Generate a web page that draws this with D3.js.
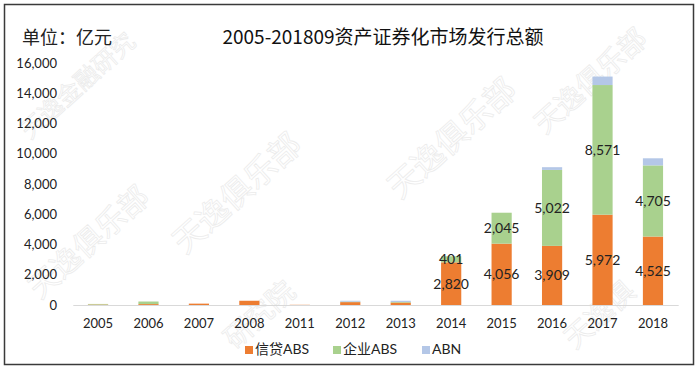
<!DOCTYPE html>
<html>
<head>
<meta charset="utf-8">
<script src="https://cdn.jsdelivr.net/npm/d3@7"></script>
<style>
  body { margin: 0; background: #fff; }
  #chart { width: 700px; height: 372px; }
  text { font-family: Lato, "Noto Sans CJK SC", sans-serif; fill: #222; }
</style>
</head>
<body>
<div id="chart"></div>
<script>
// Values (亿元)
var years = ["2005", "2006", "2007", "2008", "2011", "2012", "2013", "2014", "2015", "2016", "2017", "2018"]
var credit = [30, 60, 90, 280, 13, 190, 160, 2820, 4056, 3909, 5972, 4525]
var corporate = [40, 170, 0, 0, 0, 30, 40, 401, 2045, 5022, 8571, 4705]
var abn = [0, 0, 0, 0, 0, 60, 80, 0, 0, 180, 560, 470]
var yTicks = [0, 2000, 4000, 6000, 8000, 10000, 12000, 14000, 16000]
var labelYears = ["2014", "2015", "2016", "2017", "2018"]

var seriesKeys = ["credit", "corporate", "abn"]
var seriesNames = ["信贷ABS", "企业ABS", "ABN"]
var colors = ["#ED7D31", "#A9D18E", "#B4C7E7"]

var width = 700
var height = 372

var table = years.map((y, i) => ({year: y, credit: credit[i], corporate: corporate[i], abn: abn[i]}))

var svg = d3.select("#chart")
            .append("svg")
              .attr("width", width)
              .attr("height", height)

// Faint watermarks (kept inside the frame)
var marks = [
  ["天逸金融研究", 30, 140, 24],
  ["天逸俱乐部", 185, 255, 32],
  ["天逸俱乐部", 40, 300, 30],
  ["天逸俱乐部", 400, 200, 32],
  ["天逸俱乐部", 545, 135, 28],
  ["研究院", 235, 350, 28],
  ["天逸俱", 575, 350, 28]
]
svg.selectAll(".wm")
    .data(marks).enter()
    .append("text")
      .attr("class", "wm")
      .attr("transform", d => "translate(" + d[1] + "," + d[2] + ") rotate(-42)")
      .style("font-size", d => d[3] + "px")
      .style("font-family", "'Noto Sans CJK SC'")
      .style("fill", "none")
      .style("stroke", "#ececec")
      .style("stroke-width", 0.8)
      .text(d => d[0])

// Frame
svg.append("rect")
    .attr("x", 4.5)
    .attr("y", 4.5)
    .attr("width", 689)
    .attr("height", 360)
    .attr("fill", "none")
    .attr("stroke", "#3a3a3a")
    .attr("stroke-width", 1.5)

var x = d3.scaleBand()
            .domain(years)
            .range([72.8, 678.2])
            .paddingInner(0.6)
            .paddingOuter(0.3)

var y = d3.scaleLinear()
            .domain([0, 16000])
            .range([305, 63])

var stacked = d3.stack().keys(seriesKeys)(table)

// Axes
var xAxis = svg.append("g")
                .attr("transform", "translate(0,305)")
                .call(d3.axisBottom(x).tickSize(0).tickSizeOuter(0).tickPadding(14))
xAxis.select(".domain").attr("stroke", "#d9d9d9")
xAxis.selectAll("text").style("font-size", "13px")

var yAxis = svg.append("g")
                .attr("transform", "translate(60,0)")
                .call(d3.axisLeft(y).tickValues(yTicks).tickFormat(d3.format(",")).tickSize(0).tickPadding(3))
yAxis.select(".domain").remove()
yAxis.selectAll("text").style("font-size", "13px")

// Bars
var layers = svg.selectAll(".layer")
                .data(stacked).enter()
                .append("g")
                  .attr("class", "layer")
                  .attr("fill", (d, i) => colors[i])

layers.selectAll("rect")
        .data(d => d).enter()
        .append("rect")
          .attr("x", d => x(d.data.year))
          .attr("y", d => y(d[1]))
          .attr("width", x.bandwidth())
          .attr("height", d => y(d[0]) - y(d[1]))

// Data labels for credit and corporate segments
stacked.slice(0, 2).forEach(layer => {
  svg.append("g")
      .selectAll("text")
      .data(layer.filter(d => labelYears.indexOf(d.data.year) >= 0)).enter()
      .append("text")
        .attr("x", d => x(d.data.year) + x.bandwidth() / 2)
        .attr("y", d => (y(d[0]) + y(d[1])) / 2)
        .attr("dy", "0.35em")
        .attr("text-anchor", "middle")
        .style("font-size", "14px")
        .text(d => d3.format(",")(d[1] - d[0]))
})

// Titles
svg.append("text")
    .attr("x", 22)
    .attr("y", 44)
    .style("font-size", "18px")
    .style("font-family", "'Noto Sans CJK SC'")
    .text("单位：亿元")

svg.append("text")
    .attr("x", 383)
    .attr("y", 44)
    .attr("text-anchor", "middle")
    .style("font-size", "19px")
    .style("font-family", "'Noto Sans CJK SC'")
    .style("fill", "#111")
    .text("2005-201809资产证券化市场发行总额")

// Legend
var legendX = [245, 333, 422]
var legend = svg.selectAll(".legend")
                .data(seriesNames).enter()
                .append("g")
                  .attr("class", "legend")
                  .attr("transform", (d, i) => "translate(" + legendX[i] + ",346)")

legend.append("rect")
        .attr("width", 8)
        .attr("height", 8)
        .attr("fill", (d, i) => colors[i])

legend.append("text")
        .attr("x", 10)
        .attr("y", 8)
        .style("font-size", "14px")
        .text(d => d)
</script>
</body>
</html>
